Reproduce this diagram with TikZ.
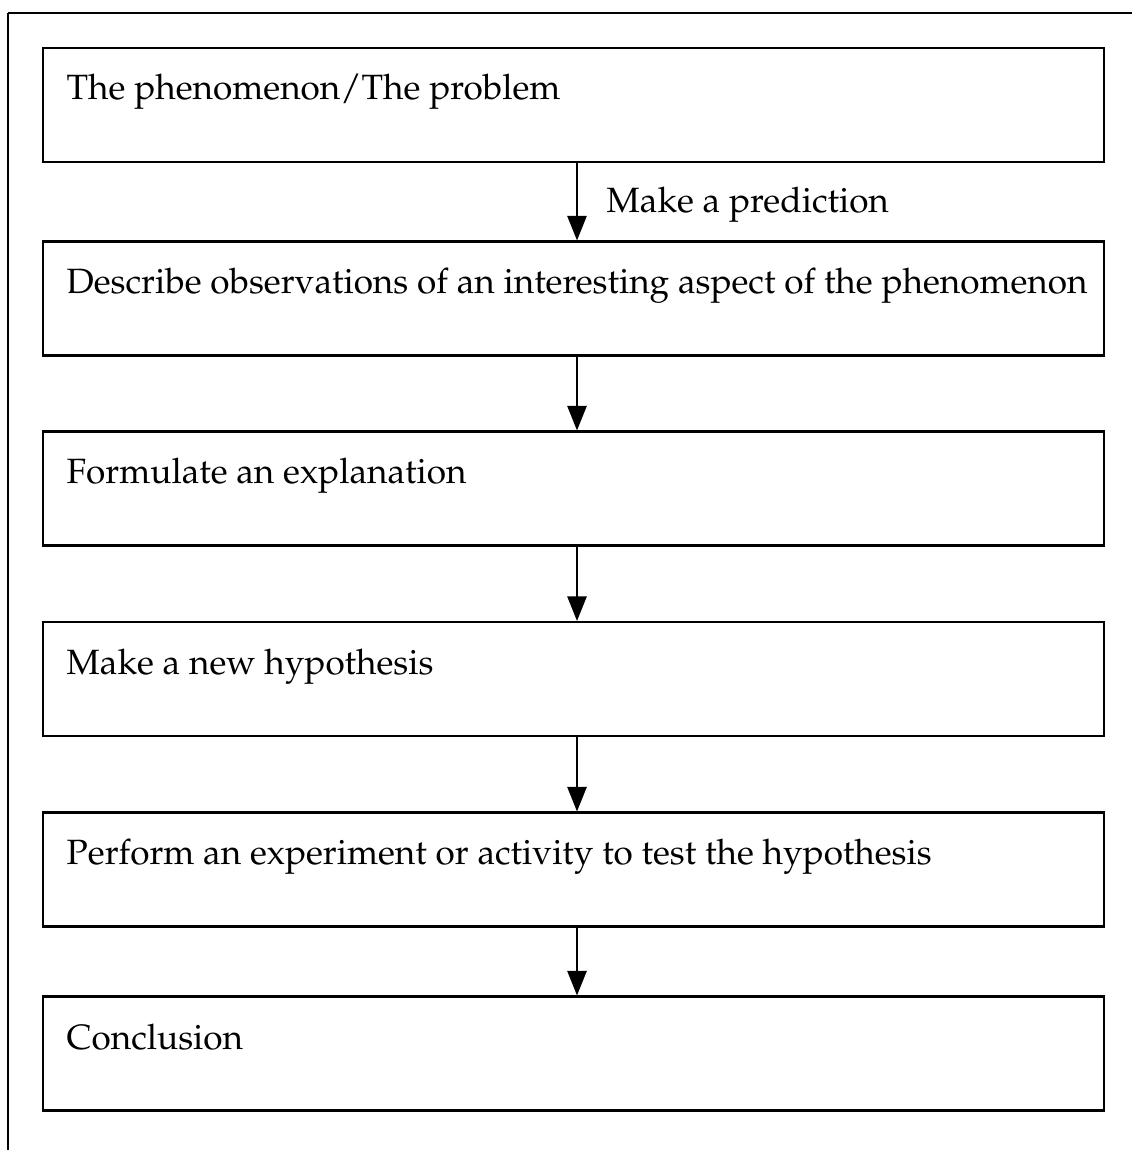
\documentclass[tikz,border=0pt]{standalone}
\usepackage[T1]{fontenc}
\usepackage{mathpazo}
\usetikzlibrary{arrows.meta}
\tikzstyle{box}=[rectangle, draw, line width=0.6pt, minimum width=10.61cm, minimum height=1.14cm, inner sep=0pt]
\tikzstyle{txt}=[anchor=base west, inner sep=0pt, font=\fontsize{10}{12}\selectfont]
\tikzstyle{arr}=[line width=0.5pt, -{Triangle[width=5.5pt,length=7pt]}]

\begin{document}
\begin{tikzpicture}
		\useasboundingbox (0,0) rectangle (11.32,-11.50);
		% outer frame, only left and top visible
		\draw[line width=0.6pt] (0.08,-0.13) -- (11.32,-0.13);
		\draw[line width=0.85pt] (0.08,-0.13) -- (0.08,-5.65);
		\draw[line width=0.3pt] (0.08,-5.65) -- (0.08,-11.50);
		\node[box] (b1) at (5.735, -1.05) {};
		\node[box] (b2) at (5.735, -2.985) {};
		\node[box] (b3) at (5.735, -4.885) {};
		\node[box] (b4) at (5.735, -6.79) {};
		\node[box] (b5) at (5.735, -8.695) {};
		\node[box] (b6) at (5.735, -10.535) {};
		\node[txt] (t1) at (0.66, -1.00) {The phenomenon/The problem};
		\node[txt] (t2) at (0.66, -2.94) {Describe observations of an interesting aspect of the phenomenon};
		\node[txt] (t3) at (0.66, -4.84) {Formulate an explanation};
		\node[txt] (t4) at (0.66, -6.74) {Make a new hypothesis};
		\node[txt] (t5) at (0.66, -8.64) {Perform an experiment or activity to test the hypothesis};
		\node[txt] (t6) at (0.66, -10.49) {Conclusion};
		\node[txt] (p) at (6.06, -2.13) {Make a prediction};
		\draw[arr] ([xshift=0.035cm]b1.south) -- ([xshift=0.035cm]b2.north);
		\draw[arr] ([xshift=0.035cm]b2.south) -- ([xshift=0.035cm]b3.north);
		\draw[arr] ([xshift=0.035cm]b3.south) -- ([xshift=0.035cm]b4.north);
		\draw[arr] ([xshift=0.035cm]b4.south) -- ([xshift=0.035cm]b5.north);
		\draw[arr] ([xshift=0.035cm]b5.south) -- ([xshift=0.035cm]b6.north);
	\end{tikzpicture}
\end{document}
